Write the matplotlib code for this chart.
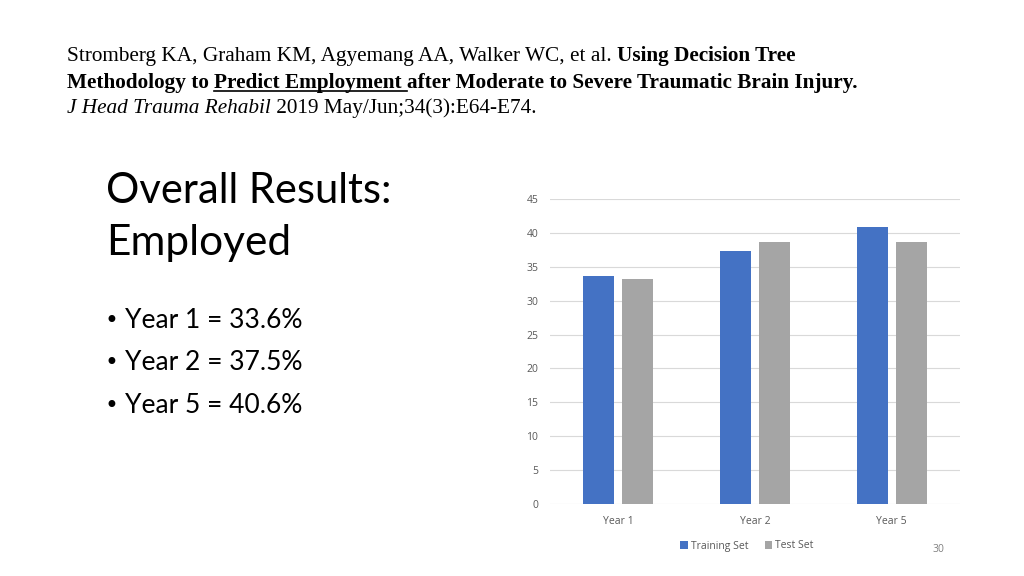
import matplotlib
matplotlib.use("Agg")
import matplotlib.pyplot as plt
import numpy as np
from matplotlib.lines import Line2D

categories = ["Year 1", "Year 2", "Year 5"]
training_set = [33.6, 37.3, 40.9]
test_set = [33.2, 38.7, 38.7]
series_names = ["Training Set", "Test Set"]
yticks = [0, 5, 10, 15, 20, 25, 30, 35, 40, 45]
bullets = ["Year 1 = 33.6%", "Year 2 = 37.5%", "Year 5 = 40.6%"]

W, H = 1024, 576
fig = plt.figure(figsize=(W / 100, H / 100), dpi=100)
fig.patch.set_facecolor("white")

def fx(x):
    return x / W

def fy(y):
    return 1 - y / H

# chart axes
ax = fig.add_axes([fx(550), fy(504), (960 - 550) / W, (504 - 199) / H])
x = np.arange(len(categories))
w = 0.227
off = 0.143
ax.bar(x - off, training_set, w, color="#4472C4", label=series_names[0], zorder=3)
ax.bar(x + off, test_set, w, color="#A5A5A5", label=series_names[1], zorder=3)
ax.set_xlim(-0.5, 2.5)
ax.set_ylim(0, 45)
ax.set_yticks(yticks)
ax.set_xticks(x)
ax.set_xticklabels(categories)
for s in ax.spines.values():
    s.set_visible(False)
ax.grid(axis="y", color="#D9D9D9", linewidth=0.8, zorder=0)
ax.tick_params(axis="both", length=0, labelsize=7.5, labelcolor="#595959")
ax.tick_params(axis="y", pad=8.5)
ax.tick_params(axis="x", pad=9)
for lab in ax.get_xticklabels() + ax.get_yticklabels():
    lab.set_family("Open Sans")
leg = ax.legend(loc="center", bbox_to_anchor=((747 - 550) / 410, (504 - 546) / 305), ncol=2, frameon=False,
                handlelength=0.7, handleheight=0.7, handletextpad=0.3, columnspacing=1.6,
                prop={"family": "Open Sans", "size": 7.5})
for t in leg.get_texts():
    t.set_color("#595959")

fig.text(fx(938), fy(550), "30", fontsize=7.5, color="#808080", family="Open Sans", ha="center", va="center")

# citation with mixed styles
renderer = fig.canvas.get_renderer()
csize = 15.3
def segs(x0, ybase, parts):
    xcur = x0
    for txt, weight, style, underline in parts:
        t = fig.text(fx(xcur), fy(ybase), txt, fontsize=csize, family="Liberation Serif",
                     weight=weight, style=style, va="baseline", ha="left", color="black")
        bb = t.get_window_extent(renderer)
        if underline:
            fig.add_artist(Line2D([fx(xcur), fx(xcur + bb.width)], [fy(ybase + 3), fy(ybase + 3)],
                                  color="black", linewidth=1.2))
        xcur += bb.width
    return xcur

segs(67, 61, [("Stromberg KA, Graham KM, Agyemang AA, Walker WC, et al. ", "normal", "normal", False),
              ("Using Decision Tree", "bold", "normal", False)])
segs(67, 88, [("Methodology to ", "bold", "normal", False),
              ("Predict Employment ", "bold", "normal", True),
              ("after Moderate to Severe Traumatic Brain Injury.", "bold", "normal", False)])
segs(67, 113, [("J Head Trauma Rehabil", "normal", "italic", False),
               (" 2019 May/Jun;34(3):E64-E74.", "normal", "normal", False)])

# title
fig.text(fx(106), fy(203), "Overall Results:", fontsize=30, family="Lato", va="baseline", ha="left")
fig.text(fx(106), fy(255), "Employed", fontsize=30.5, family="Lato", weight="normal", va="baseline", ha="left")

for i, b in enumerate(bullets):
    yb = 328 + i * 42.5
    fig.text(fx(105), fy(yb), "\u2022", fontsize=17, family="DejaVu Sans", va="baseline", ha="left")
    fig.text(fx(125), fy(yb), b, fontsize=19, family="Lato", va="baseline", ha="left")

fig.savefig("out.png", dpi=100, facecolor="white")
